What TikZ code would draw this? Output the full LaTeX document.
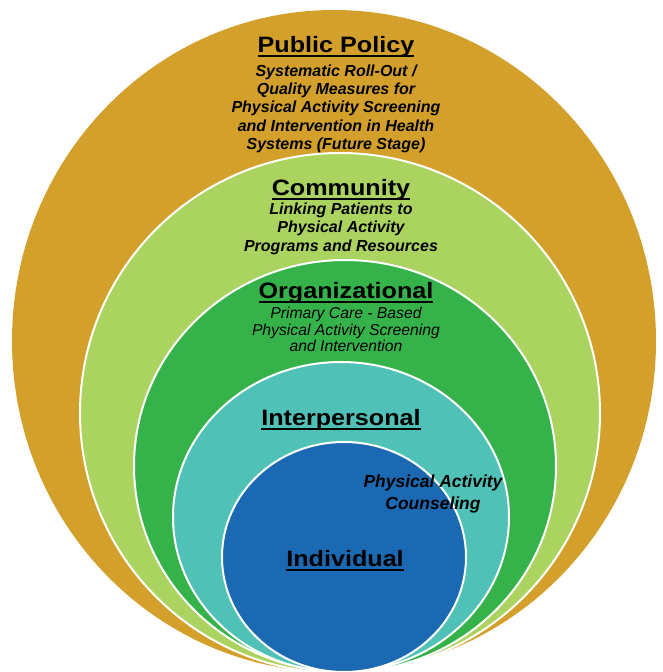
\documentclass[tikz,border=0pt]{standalone}
\usepackage{fontspec}
\usepackage{tikz}
\usetikzlibrary{calc}

\setmainfont{Liberation Sans}
\newfontfamily\headfont[FakeStretch=1.13]{Liberation Sans}

\definecolor{policygold}{RGB}{211,160,43}
\definecolor{communitylime}{RGB}{171,211,95}
\definecolor{orggreen}{RGB}{53,179,74}
\definecolor{interteal}{RGB}{79,193,182}
\definecolor{indivblue}{RGB}{27,105,178}

% underlined ring title: rule sits just below the baseline
\newsavebox{\ringbox}
\newcommand{\ringul}[1]{\sbox{\ringbox}{#1}\rlap{\vrule width\wd\ringbox height -1.9pt depth 3.5pt}\usebox{\ringbox}}

\begin{document}
\begin{tikzpicture}[x=0.75pt, y=0.75pt,
  ring/.style={draw=white, line width=1.5pt},
  head/.style={anchor=base, inner sep=0pt, font=\headfont\bfseries\fontsize{16.7}{20}\selectfont},
  body/.style={anchor=base, inner sep=0pt, align=center, font=\bfseries\itshape\fontsize{12}{13.7}\selectfont}]

\clip (0,0) rectangle (663,-672);

% Nested rings, all meeting at the bottom
\fill[policygold] (334,-341) ellipse [x radius=322, y radius=331];
\filldraw[ring, fill=communitylime] (340,-413) ellipse [x radius=260, y radius=260];
\filldraw[ring, fill=orggreen] (345,-466) ellipse [x radius=211, y radius=206];
\filldraw[ring, fill=interteal] (341,-517) ellipse [x radius=168, y radius=155];
\filldraw[ring, fill=indivblue] (344,-557) ellipse [x radius=122, y radius=115];

% Public policy
\node[head] (policy) at (336,-52) {\ringul{Public Policy}};
\node[body] (policytxt) at ($(policy.base)+(0,-97.3)$) {Systematic Roll-Out /\\Quality Measures for\\Physical Activity Screening\\and Intervention in Health\\Systems (Future Stage)};

% Community
\node[head] (community) at (341,-195) {\ringul{Community}};
\node[body] (communitytxt) at ($(community.base)+(0,-56)$) {Linking Patients to\\Physical Activity\\Programs and Resources};

% Organizational
\node[head] (org) at (346,-298.3) {\ringul{Organizational}};
\node[body, font=\itshape\fontsize{11.8}{12.5}\selectfont] (orgtxt) at ($(org.base)+(0,-53.4)$) {Primary Care - Based\\Physical Activity Screening\\and Intervention};

% Interpersonal
\node[head] (inter) at (341,-425) {\ringul{Interpersonal}};
\node[body, font=\bfseries\itshape\fontsize{13.1}{16.5}\selectfont] (intertxt) at (433,-509.3) {Physical Activity\\Counseling};

% Individual
\node[head] (indiv) at (345,-566) {\ringul{Individual}};
\end{tikzpicture}
\end{document}
